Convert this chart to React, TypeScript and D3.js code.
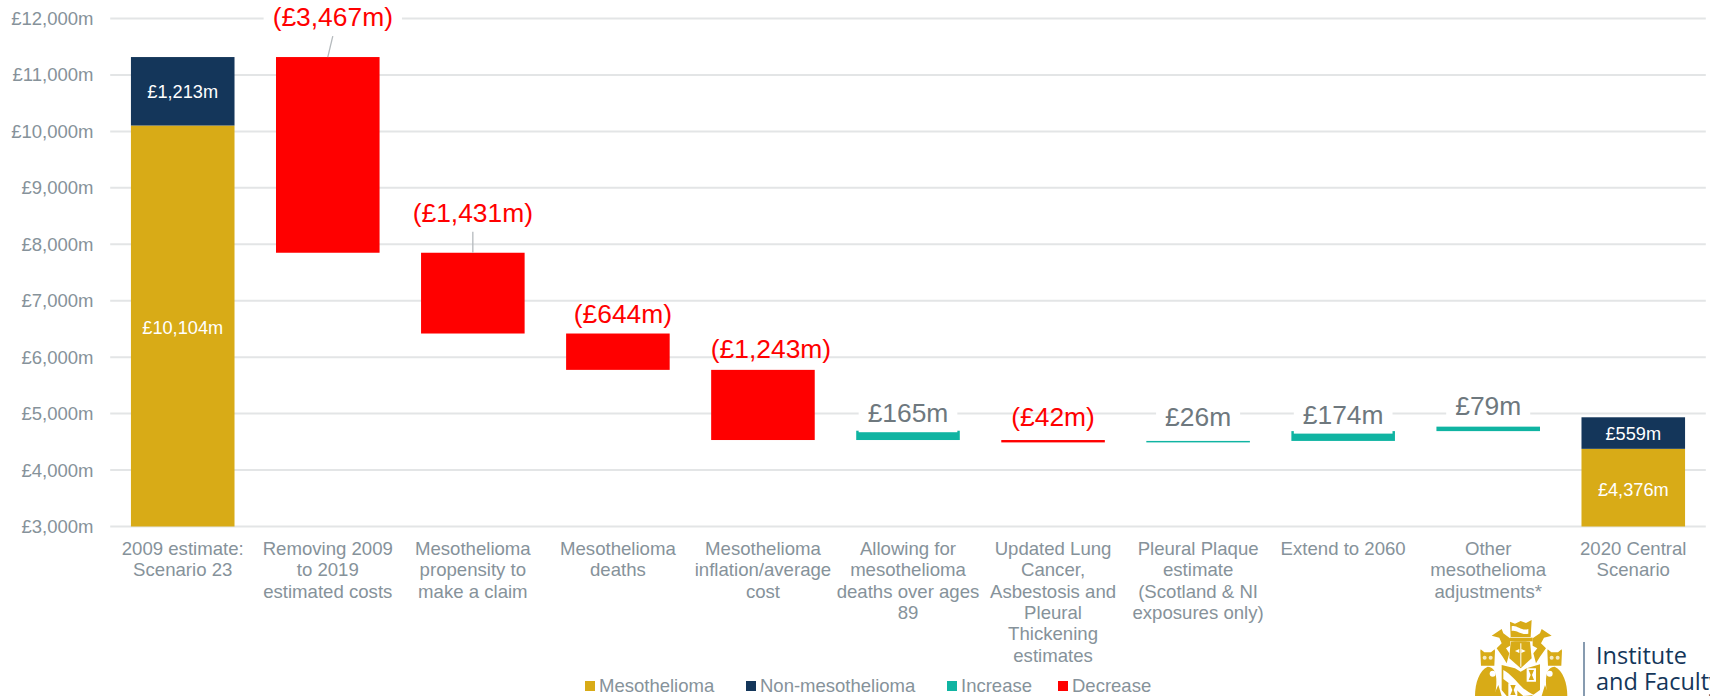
import React from "react";
import * as d3 from "d3";

const categories = [
  ["2009 estimate:", "Scenario 23"],
  ["Removing 2009", "to 2019", "estimated costs"],
  ["Mesothelioma", "propensity to", "make a claim"],
  ["Mesothelioma", "deaths"],
  ["Mesothelioma", "inflation/average", "cost"],
  ["Allowing for", "mesothelioma", "deaths over ages", "89"],
  ["Updated Lung", "Cancer,", "Asbestosis and", "Pleural", "Thickening", "estimates"],
  ["Pleural Plaque", "estimate", "(Scotland & NI", "exposures only)"],
  ["Extend to 2060"],
  ["Other", "mesothelioma", "adjustments*"],
  ["2020 Central", "Scenario"],
];
const yTicks = [3000, 4000, 5000, 6000, 7000, 8000, 9000, 10000, 11000, 12000];

const mesothelioma = [10104, 0, 0, 0, 0, 0, 0, 0, 0, 0, 4376];
const nonMesothelioma = [1213, 0, 0, 0, 0, 0, 0, 0, 0, 0, 559];
const bridgeStart = [0, 11317, 7850, 6419, 5775, 4532, 4532, 4490, 4516, 4690, 0];
const bridgeEnd = [0, 7850, 6419, 5775, 4532, 4697, 4490, 4516, 4690, 4769, 0];
const bridgeLabels = ["", "(£3,467m)", "(£1,431m)", "(£644m)", "(£1,243m)", "£165m", "(£42m)", "£26m", "£174m", "£79m", ""];
const legendNames = ["Mesothelioma", "Non-mesothelioma", "Increase", "Decrease"];

const GOLD = "#D8AB17";
const NAVY = "#14365A";
const TEAL = "#10B4A2";
const RED = "#FF0000";
const AXIS_TEXT = "#86929A";
const GRID = "#E3E5E6";
const FONT = "'Liberation Sans', Arial, sans-serif";

const W = 1710;
const H = 696;

const x = d3.scaleBand<number>().domain(d3.range(11)).range([110.2, 1705.8]).paddingInner(0.286).paddingOuter(0.143);
const y = d3.scaleLinear().domain([3000, 12000]).range([526.5, 18.5]);

const labelLift = [0, 40.5, 40, 19.5, 21, 17.5, 23, 24, 16.5, 20.5, 0];
const labelShift = [0, 5, 0, 5, 8, 0, 0, 0, 0, 0, 0];
const labelPad = [0, 9, 9, 0, 0, 9, 0, 9, 9, 9, 0];
const leaderShown = [0, 1, 1, 0, 0, 0, 0, 0, 0, 0, 0];
const legendStarts = [585, 746, 947, 1058];

const emWidths: Record<string, number> = { "(": 0.333, ")": 0.333, ",": 0.278, m: 0.833 };
const textWidth = (s: string, size: number) =>
  d3.sum(Array.from(s), (c) => emWidths[c] ?? 0.556) * size;

function Crest() {
  const wing = (cx: number, dir: number) => (
    <g fill={GOLD}>
      <path d={`M${cx - 22 * dir},108 L${cx - 21 * dir},103 L${cx - 10 * dir},112 L${cx + 10 * dir},112 L${cx + 21 * dir},103 L${cx + 22 * dir},108 L${cx + 20 * dir},152 L${cx - 20 * dir},152 Z`} />
      <path d={`M${cx - 38 * dir},243 C${cx - 38 * dir},205 ${cx - 25 * dir},165 ${cx},155 C${cx + 28 * dir},158 ${cx + 30 * dir},190 ${cx + 22 * dir},243 Z`} />
      <circle cx={cx + 15 * dir} cy={176} r={9} fill="#fff" />
      <circle cx={cx - 9 * dir} cy={128} r={6} fill="#fff" opacity={0.75} />
      <circle cx={cx + 9 * dir} cy={128} r={6} fill="#fff" opacity={0.75} />
    </g>
  );
  return (
    <g>
      <g transform="translate(1460,615) scale(0.3333)">
        {wing(83, 1)}
        {wing(284, -1)}
        <g fill={GOLD}>
          <path d="M150,20 L165,26 L182,18 L198,24 L215,15 L212,66 L152,66 Z" />
          <path d="M150,68 H218 V79 H150 Z" />
          <path d="M152,80 C165,78 198,78 210,80 L215,130 L182,160 L148,130 Z" />
          <path d="M125,150 L165,160 L182,170 L200,160 L240,148 L240,225 L215,243 L140,243 L125,225 Z" />
          <path d="M95,62 L125,42 L130,55 L150,70 L150,92 L138,100 L148,115 L140,145 L128,125 L110,100 L125,85 L118,68 Z" />
          <path d="M275,62 L245,42 L240,55 L218,70 L218,92 L232,100 L220,115 L228,145 L240,125 L258,100 L243,85 L252,68 Z" />
          <path d="M100,243 L115,210 L125,243 Z M268,243 L255,210 L245,243 Z" />
        </g>
        <path d="M155,34 C170,28 185,50 205,42 L205,56 C185,62 170,44 155,48 Z" fill="#fff" />
        <path d="M165,108 L178,102 V114 Z M197,108 L184,102 V114 Z" fill="#fff" />
        <path d="M181,85 H184 V155 H181 Z" fill="#fff" />
        <path d="M130,165 C150,175 170,200 185,215 C195,225 210,235 222,240 L190,243 C170,225 150,205 130,192 Z" fill="#fff" />
        <path d="M200,160 H228 V200 H200 Z M145,205 H172 V243 H145 Z" fill="#fff" />
        <path d="M206,165 H222 L216,180 L222,195 H206 L212,180 Z M151,210 H167 L161,225 L167,240 H151 L157,225 Z" fill={GOLD} />
      </g>
      <line x1={1584} x2={1584} y1={642} y2={696} stroke="#5F7A96" strokeWidth={1.5} />
      <text x={1596} y={664} fontFamily="'Open Sans', sans-serif" fontSize={23.5} fill={NAVY}>Institute</text>
      <text x={1596} y={690} fontFamily="'Open Sans', sans-serif" fontSize={23.5} fill={NAVY}>and Faculty</text>
    </g>
  );
}

export default function App() {
  const bw = x.bandwidth();
  const fmt = d3.format(",");
  return (
    <svg
      width={W}
      height={H}
      viewBox={`0 0 ${W} ${H}`}
      style={{ position: "absolute", left: 0, top: 0, display: "block", background: "#fff" }}
      fontFamily={FONT}
    >
      {yTicks.map((t) => (
        <g key={t}>
          <line x1={110.2} x2={1705.8} y1={y(t)} y2={y(t)} stroke={GRID} strokeWidth={2} />
          <text x={93.5} y={y(t)} dy="0.35em" textAnchor="end" fontSize={18.5} fill={AXIS_TEXT}>
            {`£${fmt(t)}m`}
          </text>
        </g>
      ))}

      {categories.map((lines, i) => (
        <text key={i} textAnchor="middle" fontSize={18.6} fill={AXIS_TEXT}>
          {lines.map((l, j) => (
            <tspan key={j} x={x(i)! + bw / 2} y={555 + j * 21.3}>{l}</tspan>
          ))}
        </text>
      ))}

      {mesothelioma.map((v, i) =>
        v > 0 ? (
          <g key={i}>
            <rect x={x(i)} width={bw} y={y(v)} height={y(3000) - y(v)} fill={GOLD} />
            <rect x={x(i)} width={bw} y={y(v + nonMesothelioma[i])} height={y(v) - y(v + nonMesothelioma[i])} fill={NAVY} />
          </g>
        ) : null
      )}

      {bridgeStart.map((s, i) => {
        const e = bridgeEnd[i];
        if (!s) return null;
        const top = Math.max(s, e);
        const bot = Math.min(s, e);
        return (
          <rect key={i} x={x(i)} width={bw} y={y(top)} height={y(bot) - y(top)} fill={e > s ? TEAL : RED} />
        );
      })}

      {bridgeLabels.map((lab, i) => {
        if (!lab) return null;
        const top = y(Math.max(bridgeStart[i], bridgeEnd[i]));
        const cx = x(i)! + bw / 2 + labelShift[i];
        const cy = top - labelLift[i];
        const isDown = bridgeEnd[i] < bridgeStart[i];
        const tw = textWidth(lab, 26.4);
        return (
          <g key={i}>
            {labelPad[i] > 0 ? (
              <rect x={cx - tw / 2 - labelPad[i]} width={tw + 2 * labelPad[i]} y={cy - 19} height={38} fill="#fff" />
            ) : null}
            {leaderShown[i] ? (
              <line x1={cx} y1={top - 21} x2={x(i)! + bw / 2} y2={top} stroke="#B5BABD" strokeWidth={1.3} />
            ) : null}
            <text x={cx} y={cy} dy="0.35em" textAnchor="middle" fontSize={26.4} fill={isDown ? RED : "#6E787E"}>{lab}</text>
          </g>
        );
      })}

      {mesothelioma.map((v, i) =>
        v > 0 ? (
          <g key={i} fontSize={18.2} fill="#fff" textAnchor="middle">
            <text x={x(i)! + bw / 2} y={(y(3000) + y(v)) / 2 + 1.5} dy="0.35em">{`£${fmt(v)}m`}</text>
            <text x={x(i)! + bw / 2} y={(y(v) + y(v + nonMesothelioma[i])) / 2 + 0.5} dy="0.35em">{`£${fmt(nonMesothelioma[i])}m`}</text>
          </g>
        ) : null
      )}

      {legendNames.map((n, i) => (
        <g key={n}>
          <rect x={legendStarts[i]} y={681} width={10} height={10} fill={[GOLD, NAVY, TEAL, RED][i]} />
          <text x={legendStarts[i] + 14} y={686} dy="0.35em" fontSize={18.5} fill={AXIS_TEXT}>{n}</text>
        </g>
      ))}

      <Crest />
    </svg>
  );
}
